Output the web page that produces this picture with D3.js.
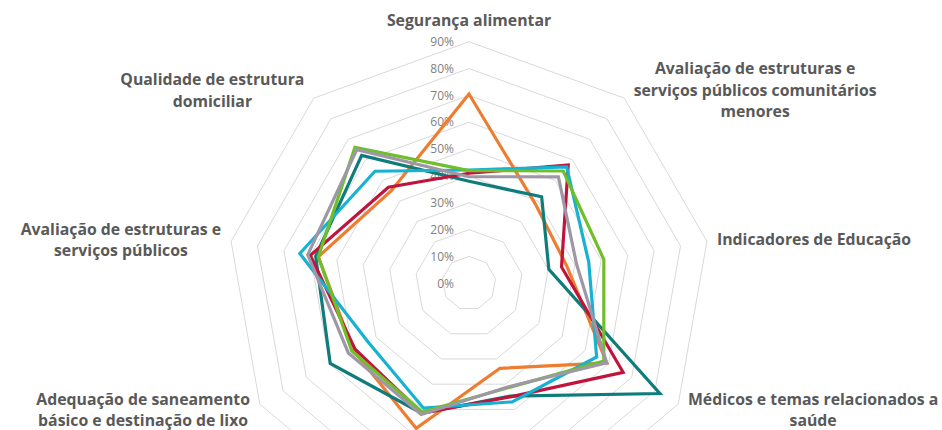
<!DOCTYPE html>
<meta charset="utf-8">
<style>
    body { margin: 0; background: #fff; }
    svg { display: block; }
    .grid path { fill: none; stroke: #d9d9d9; stroke-width: 1px; }
    .tick-label { font-family: "Open Sans", sans-serif; font-size: 12px; fill: #7f7f7f; }
    .axis-label { font-family: "Open Sans", sans-serif; font-size: 15.8px; font-weight: bold; fill: #595959; }
    .series path { fill: none; stroke-width: 3.2px; stroke-linejoin: miter; }
</style>
<svg width="942" height="430"></svg>
<script src="https://d3js.org/d3.v7.min.js"></script>
<script>
    // categories clockwise from the top; the two bottom ones are cut off in the picture
    const categories = [
        "Segurança alimentar",
        "Avaliação de estruturas e\nserviços públicos comunitários\nmenores",
        "Indicadores de Educação",
        "Médicos e temas relacionados a\nsaúde",
        "",
        "",
        "Adequação de saneamento\nbásico e destinação de lixo",
        "Avaliação de estruturas e\nserviços públicos",
        "Qualidade de estrutura\ndomiciliar"
    ];
    const ticks = [0, 0.1, 0.2, 0.3, 0.4, 0.5, 0.6, 0.7, 0.8, 0.9];

    const seriesOrange  = [0.705, 0.385, 0.37, 0.593, 0.337, 0.575, 0.498, 0.57, 0.45];
    const seriesTeal    = [0.38, 0.421, 0.302, 0.821, 0.447, 0.515, 0.597, 0.58, 0.622];
    const seriesCrimson = [0.41, 0.575, 0.35, 0.663, 0.45, 0.515, 0.49, 0.60, 0.467];
    const seriesCyan    = [0.422, 0.566, 0.453, 0.549, 0.47, 0.495, 0.435, 0.64, 0.545];
    const seriesGreen   = [0.42, 0.546, 0.51, 0.58, 0.415, 0.51, 0.504, 0.57, 0.661];
    const seriesGray    = [0.397, 0.518, 0.407, 0.592, 0.412, 0.52, 0.519, 0.61, 0.65];

    const seriesList = [seriesOrange, seriesTeal, seriesCrimson, seriesCyan, seriesGreen, seriesGray];
    const colors = ["#ed7d31", "#0e7c7b", "#c0143c", "#17b1d3", "#6fbe2b", "#9e97a6"];

    const cx = 469, cy = 283.3;
    const n = categories.length;
    const angle = d3.scaleLinear().domain([0, n]).range([0, 2 * Math.PI]);
    const r = d3.scaleLinear().domain([0, 0.9]).range([0, 241.6]);

    const svg = d3.select("svg");
    const chart = svg.append("g").attr("transform", "translate(" + cx + "," + cy + ")");

    const ring = d3.lineRadial()
        .angle(function (d, i) { return angle(i); })
        .radius(function (d) { return r(d); })
        .curve(d3.curveLinearClosed);

    // grid rings, one per tick (9 sides)
    chart.append("g").attr("class", "grid")
        .selectAll("path")
        .data(ticks.filter(function (t) { return t > 0; }))
        .enter().append("path")
        .attr("d", function (t) { return ring(d3.range(n).map(function () { return t; })); });

    chart.append("g")
        .selectAll("text")
        .data(ticks)
        .enter().append("text")
        .attr("class", "tick-label")
        .attr("x", -15)
        .attr("y", function (t) { return -r(t); })
        .attr("dy", "0.35em")
        .attr("text-anchor", "end")
        .text(d3.format(".0%"));

    chart.append("g").attr("class", "series")
        .selectAll("path")
        .data(seriesList)
        .enter().append("path")
        .attr("stroke", function (d, i) { return colors[i]; })
        .attr("d", ring);

    // category labels sit just outside the outer ring vertex
    const R = r(0.9);
    const lineH = 21.5;
    categories.forEach(function (name, i) {
        if (!name) return;
        const a = angle(i);
        const vx = R * Math.sin(a), vy = -R * Math.cos(a);
        const lines = name.split("\n");
        const t = chart.append("text")
            .attr("class", "axis-label")
            .attr("text-anchor", "middle");
        lines.forEach(function (l, j) {
            t.append("tspan").attr("x", 0).attr("y", j * lineH).text(l);
        });
        const b = t.node().getBBox();
        let tx, ty;
        const s = Math.sin(a);
        if (Math.abs(s) < 0.1) {
            tx = vx;
            ty = vy - 11 - (b.y + b.height);
        } else {
            const w = b.width;
            const gap = 8 + 2 * Math.abs(s);
            tx = s > 0 ? vx + gap + w / 2 : vx - gap - w / 2;
            ty = vy - 11 * Math.cos(a) - (b.y + b.height / 2);
        }
        t.attr("transform", "translate(" + tx + "," + ty + ")");
    });
</script>
